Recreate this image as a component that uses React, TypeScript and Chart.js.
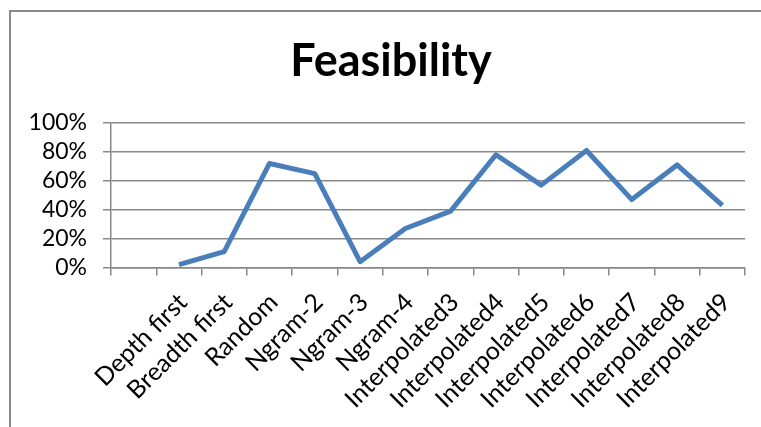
import React, { useEffect, useRef } from "react";
import { Chart, registerables } from "chart.js";

Chart.register(...registerables);

// Search strategies (the first slot of the axis is left empty)
const categories = [
  "",
  "Depth first",
  "Breadth first",
  "Random",
  "Ngram-2",
  "Ngram-3",
  "Ngram-4",
  "Interpolated3",
  "Interpolated4",
  "Interpolated5",
  "Interpolated6",
  "Interpolated7",
  "Interpolated8",
  "Interpolated9",
];

// Feasibility per strategy, in percent
const feasibility = [null, 2, 11, 72, 65, 4, 27, 39, 78, 57, 81, 47, 71, 43];

const yTicks = [0, 20, 40, 60, 80, 100];

const chartTitle = "Feasibility";

const FONT = "Lato, 'Open Sans', sans-serif";
const GRID = "#888888";

// Draws the heading centred over the whole chart frame (the frame starts a bit
// right of the canvas edge, so the heading sits right of the canvas centre).
const frameTitle = {
  id: "frameTitle",
  afterDraw(chart: any, _args: any, opts: any) {
    const ctx = chart.ctx;
    ctx.save();
    ctx.font = `bold ${opts.size}px ${FONT}`;
    ctx.fillStyle = opts.color;
    ctx.textAlign = "center";
    ctx.textBaseline = "alphabetic";
    ctx.fillText(opts.text, (chart.width + opts.shift) / 2, opts.baseline);
    ctx.restore();
  },
};

export default function App() {
  const ref = useRef<HTMLCanvasElement | null>(null);

  useEffect(() => {
    if (!ref.current) return;
    const chart = new Chart(ref.current, {
      type: "line",
      data: {
        labels: categories,
        datasets: [
          {
            label: chartTitle,
            data: feasibility,
            borderColor: "#4A7EBB",
            backgroundColor: "#4A7EBB",
            borderWidth: 5,
            pointRadius: 0,
            pointHoverRadius: 0,
            tension: 0,
            borderJoinStyle: "round",
            spanGaps: false,
          },
        ],
      },
      plugins: [frameTitle],
      options: {
        responsive: false,
        animation: false,
        layout: { padding: { top: 123, right: 16, left: 0, bottom: 0 } },
        plugins: {
          legend: { display: false },
          tooltip: { enabled: false },
          title: { display: false },
          frameTitle: { text: chartTitle, size: 45, color: "#000000", shift: 21, baseline: 76 },
        } as any,
        scales: {
          x: {
            type: "category",
            offset: true,
            afterFit: (scale: any) => {
              scale.height = 159.5;
            },
            grid: {
              offset: true,
              drawOnChartArea: false,
              drawTicks: true,
              tickLength: 8,
              color: GRID,
              lineWidth: 1.5,
            },
            border: { display: true, color: GRID, width: 1.5 },
            ticks: {
              autoSkip: false,
              maxRotation: 45,
              minRotation: 45,
              padding: 12,
              labelOffset: 4,
              color: "#000000",
              font: { family: FONT, size: 25 },
            },
          },
          y: {
            min: 0,
            max: 100,
            afterFit: (scale: any) => {
              scale.width = 111;
            },
            afterBuildTicks: (scale: any) => {
              scale.ticks = yTicks.map((v) => ({ value: v }));
            },
            grid: {
              color: GRID,
              lineWidth: 1.5,
              drawTicks: true,
              tickLength: 8,
            },
            border: { display: true, color: GRID, width: 1.5 },
            ticks: {
              autoSkip: false,
              padding: 16,
              color: "#000000",
              font: { family: FONT, size: 23 },
              callback: (v: any) => `${v}%`,
            },
          },
        },
      },
    });
    return () => chart.destroy();
  }, []);

  return (
    <div style={{ position: "absolute", left: 0, top: 0, width: 761, height: 427, overflow: "hidden", background: "#ffffff" }}>
      <div
        style={{
          position: "absolute",
          left: 9,
          top: 10,
          width: 820,
          height: 480,
          borderTop: "2px solid #8a8a8a",
          borderLeft: "2px solid #8a8a8a",
        }}
      />
      <canvas ref={ref} width={761} height={427} style={{ position: "absolute", left: 0, top: 0 }} />
    </div>
  );
}
